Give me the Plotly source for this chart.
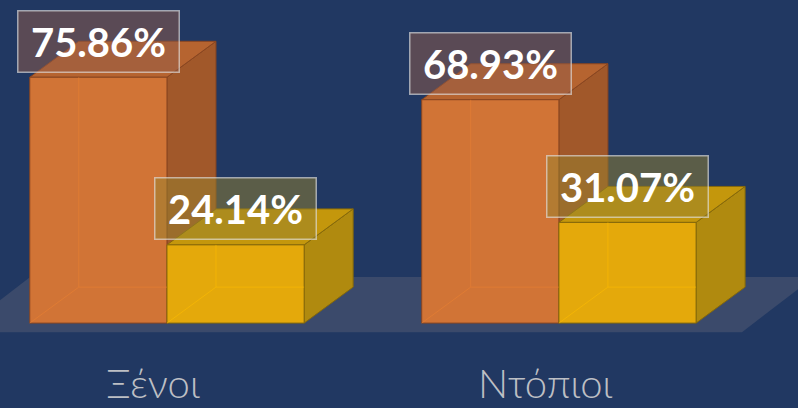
import plotly.graph_objects as go

# ---- data ----
categories = ["Ξένοι", "Ντόπιοι"]
series_names = ["Α", "Β"]
values_a = [75.86, 68.93]   # orange
values_b = [24.14, 31.07]   # yellow
label_a = ["75.86%", "68.93%"]
label_b = ["24.14%", "31.07%"]

# ---- style ----
BG = "#213862"
FLOOR = "#3b4a6b"
BAR_W = 0.35
DX = 0.125      # depth offset in x units
DY = 11.1       # depth offset in y units
XR = [-0.426, 1.610]
YR = [-26.2, 99.7]

styles = [
    dict(front="#d17436", side="#a1582a", top="#b66430", edge="#8a4620",
         inner="rgba(235,130,50,0.55)", box="rgba(147,92,72,0.5)"),
    dict(front="#e4a90b", side="#b08a0f", top="#c4970c", edge="#86690a",
         inner="rgba(255,190,0,0.55)", box="rgba(149,130,46,0.5)"),
]

fig = go.Figure()
shapes = []
annotations = []

xs = list(range(len(categories)))
centers = [[x - BAR_W / 2 for x in xs], [x + BAR_W / 2 for x in xs]]
series_vals = [values_a, values_b]
series_lbls = [label_a, label_b]

# floor slab
left_front = centers[0][0] - BAR_W / 2 - 0.183
right_front = centers[1][-1] + BAR_W / 2 + 0.117
floor_front_y = -2.8
floor_back_y = DY + 3.1
fdx = 0.184
shapes.append(dict(
    type="path", layer="below", line=dict(width=0), fillcolor=FLOOR,
    path=f"M{left_front},{floor_front_y} L{right_front},{floor_front_y} "
         f"L{right_front + fdx},{floor_back_y} L{left_front + fdx},{floor_back_y} Z"))


def poly(pts):
    return "M" + " L".join(f"{x},{y}" for x, y in pts) + " Z"


for ci in xs:
    for si in range(2):
        st = styles[si]
        c = centers[si][ci]
        v = series_vals[si][ci]
        l, r = c - BAR_W / 2, c + BAR_W / 2
        shapes.append(dict(type="path", layer="below", fillcolor=st["side"],
                           line=dict(color=st["edge"], width=1),
                           path=poly([(r, 0), (r + DX, DY), (r + DX, v + DY), (r, v)])))
        shapes.append(dict(type="path", layer="below", fillcolor=st["top"],
                           line=dict(color=st["edge"], width=1),
                           path=poly([(l, v), (r, v), (r + DX, v + DY), (l + DX, v + DY)])))

for si in range(2):
    st = styles[si]
    fig.add_trace(go.Bar(
        x=centers[si], y=series_vals[si], width=BAR_W, name=series_names[si],
        marker=dict(color=st["front"], line=dict(color=st["edge"], width=1)),
        hoverinfo="skip", showlegend=False))
    for ci in xs:
        c = centers[si][ci]
        v = series_vals[si][ci]
        l, r = c - BAR_W / 2, c + BAR_W / 2
        shapes.append(dict(type="line", layer="above", x0=l + DX, y0=DY, x1=l + DX, y1=v,
                           line=dict(color=st["inner"], width=1)))
        shapes.append(dict(type="line", layer="above", x0=l, y0=0, x1=l + DX, y1=DY,
                           line=dict(color=st["inner"], width=1)))
        shapes.append(dict(type="line", layer="above", x0=l + DX, y0=DY, x1=r, y1=DY,
                           line=dict(color=st["inner"], width=1)))
        annotations.append(dict(
            x=c, y=v + DY, xref="x", yref="y", text=f"<b>{series_lbls[si][ci]}</b>",
            showarrow=False, xanchor="center", yanchor="middle",
            font=dict(family="Lato, 'Open Sans', sans-serif", size=40, color="white"),
            bgcolor=st["box"], bordercolor="rgba(225,225,225,0.65)", borderwidth=1.5,
            borderpad=2, width=156, height=56))

for ci, cat in enumerate(categories):
    annotations.append(dict(
        x=ci - 0.035, y=-18.6, xref="x", yref="y", text=cat, showarrow=False,
        xanchor="center", yanchor="middle",
        font=dict(family="Lato, 'Open Sans', sans-serif", size=40, color="#bdbfc4",
                  weight=300)))

fig.update_layout(
    width=798, height=408, margin=dict(l=0, r=0, t=0, b=0),
    paper_bgcolor=BG, plot_bgcolor=BG, barmode="overlay",
    xaxis=dict(range=XR, visible=False, fixedrange=True),
    yaxis=dict(range=YR, visible=False, fixedrange=True),
    shapes=shapes, annotations=annotations, showlegend=False)

fig.write_html("out.html", config={"displayModeBar": False},
               post_script="document.body.style.margin='0';document.body.style.overflow='hidden';")
